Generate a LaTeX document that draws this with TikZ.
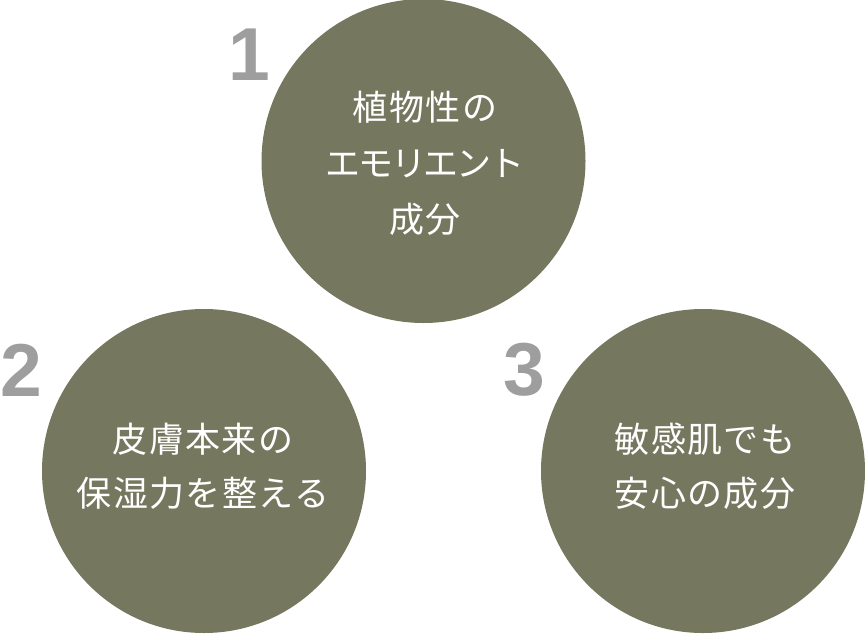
\documentclass[tikz,border=0pt]{standalone}
\usepackage{fontspec}
\newfontfamily\jpfont[LetterSpace=4]{Noto Sans CJK JP}
\newfontfamily\jpkana[LetterSpace=-6]{Noto Sans CJK JP}
\newfontfamily\numfont{Liberation Sans}
\definecolor{olive}{HTML}{76775F}
\definecolor{numgray}{HTML}{9E9E9E}
\begin{document}
\begin{tikzpicture}[x=1pt,y=-1pt,
  bubble/.style={circle,fill=olive,draw=none,minimum size=324pt,inner sep=0pt},
  bubbletext/.style={text=white,align=center,font=\jpfont\fontsize{35}{56}\selectfont},
  bubbletexttwo/.style={bubbletext,font=\jpfont\fontsize{35}{54}\selectfont},
  numlabel/.style={text=numgray,font=\numfont\bfseries\fontsize{75}{75}\selectfont,inner sep=0pt}]
\path[use as bounding box] (0,0) rectangle (865,633);
\node[bubble] (c1) at (423.5,161) {};
\node[bubble] (c2) at (204,471) {};
\node[bubble] (c3) at (703,471) {};
\node[bubbletext] (t1) at (425,163) {植物性の\\{\jpkana エモリエント}\\成分};
\node[bubbletexttwo] (t2) at (203,466) {皮膚本来の\\保湿力を整える};
\node[bubbletexttwo] (t3) at (705,466) {敏感肌でも\\安心の成分};
\node[numlabel] (n1) at (249,55) {1};
\node[numlabel] (n2) at (21,370) {2};
\node[numlabel] (n3) at (524,370) {3};
\end{tikzpicture}
\end{document}
